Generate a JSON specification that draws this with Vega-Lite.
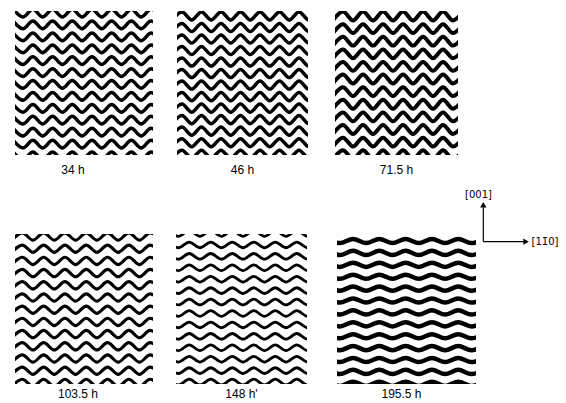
{
"$schema":"https://vega.github.io/schema/vega-lite/v6.json",
"background":"white",
"padding":{"left":15,"top":11,"right":0,"bottom":0},
"config":{"view":{"stroke":null},"title":{"font":"Liberation Sans","fontSize":12,"fontWeight":"normal","color":"black","anchor":"middle"}},
"datasets":{
"p1":[
{"k":0,"x":[1,2,3,4,5,6,7,8,9,10,11,12,13,14,15,16],"y":[-6.5,6.5,-6.5,6.5,-6.5,6.5,-6.5,6.5,-6.5,6.5,-6.5,6.5,-6.5,6.5,-6.5,6.5]},
{"k":1,"x":[1,2,3,4,5,6,7,8,9,10,11,12,13,14,15,16],"y":[13.5,26.5,13.5,26.5,13.5,26.5,13.5,26.5,13.5,26.5,13.5,26.5,13.5,26.5,13.5,26.5]},
{"k":2,"x":[1,2,3,4,5,6,7,8,9,10,11,12,13,14,15,16],"y":[33.5,46.5,33.5,46.5,33.5,46.5,33.5,46.5,33.5,46.5,33.5,46.5,33.5,46.5,33.5,46.5]},
{"k":3,"x":[1,2,3,4,5,6,7,8,9,10,11,12,13,14,15,16],"y":[53.5,66.5,53.5,66.5,53.5,66.5,53.5,66.5,53.5,66.5,53.5,66.5,53.5,66.5,53.5,66.5]},
{"k":4,"x":[1,2,3,4,5,6,7,8,9,10,11,12,13,14,15,16],"y":[73.5,86.5,73.5,86.5,73.5,86.5,73.5,86.5,73.5,86.5,73.5,86.5,73.5,86.5,73.5,86.5]},
{"k":5,"x":[1,2,3,4,5,6,7,8,9,10,11,12,13,14,15,16],"y":[93.5,106.5,93.5,106.5,93.5,106.5,93.5,106.5,93.5,106.5,93.5,106.5,93.5,106.5,93.5,106.5]},
{"k":6,"x":[1,2,3,4,5,6,7,8,9,10,11,12,13,14,15,16],"y":[113.5,126.5,113.5,126.5,113.5,126.5,113.5,126.5,113.5,126.5,113.5,126.5,113.5,126.5,113.5,126.5]},
{"k":7,"x":[1,2,3,4,5,6,7,8,9,10,11,12,13,14,15,16],"y":[133.5,146.5,133.5,146.5,133.5,146.5,133.5,146.5,133.5,146.5,133.5,146.5,133.5,146.5,133.5,146.5]},
{"k":8,"x":[1,2,3,4,5,6,7,8,9,10,11,12,13,14,15,16],"y":[153.5,166.5,153.5,166.5,153.5,166.5,153.5,166.5,153.5,166.5,153.5,166.5,153.5,166.5,153.5,166.5]},
{"k":9,"x":[1,2,3,4,5,6,7,8,9,10,11,12,13,14,15,16],"y":[173.5,186.5,173.5,186.5,173.5,186.5,173.5,186.5,173.5,186.5,173.5,186.5,173.5,186.5,173.5,186.5]},
{"k":10,"x":[1,2,3,4,5,6,7,8,9,10,11,12,13,14,15,16],"y":[193.5,206.5,193.5,206.5,193.5,206.5,193.5,206.5,193.5,206.5,193.5,206.5,193.5,206.5,193.5,206.5]},
{"k":11,"x":[1,2,3,4,5,6,7,8,9,10,11,12,13,14,15,16],"y":[213.5,226.5,213.5,226.5,213.5,226.5,213.5,226.5,213.5,226.5,213.5,226.5,213.5,226.5,213.5,226.5]},
{"k":12,"x":[1,2,3,4,5,6,7,8,9,10,11,12,13,14,15,16],"y":[233.5,246.5,233.5,246.5,233.5,246.5,233.5,246.5,233.5,246.5,233.5,246.5,233.5,246.5,233.5,246.5]}
],
"p2":[
{"k":0,"x":[1,2,3,4,5,6,7,8,9,10,11,12,13,14,15,16],"y":[7,-7,7,-7,7,-7,7,-7,7,-7,7,-7,7,-7,7,-7]},
{"k":1,"x":[1,2,3,4,5,6,7,8,9,10,11,12,13,14,15,16],"y":[27,13,27,13,27,13,27,13,27,13,27,13,27,13,27,13]},
{"k":2,"x":[1,2,3,4,5,6,7,8,9,10,11,12,13,14,15,16],"y":[47,33,47,33,47,33,47,33,47,33,47,33,47,33,47,33]},
{"k":3,"x":[1,2,3,4,5,6,7,8,9,10,11,12,13,14,15,16],"y":[67,53,67,53,67,53,67,53,67,53,67,53,67,53,67,53]},
{"k":4,"x":[1,2,3,4,5,6,7,8,9,10,11,12,13,14,15,16],"y":[87,73,87,73,87,73,87,73,87,73,87,73,87,73,87,73]},
{"k":5,"x":[1,2,3,4,5,6,7,8,9,10,11,12,13,14,15,16],"y":[107,93,107,93,107,93,107,93,107,93,107,93,107,93,107,93]},
{"k":6,"x":[1,2,3,4,5,6,7,8,9,10,11,12,13,14,15,16],"y":[127,113,127,113,127,113,127,113,127,113,127,113,127,113,127,113]},
{"k":7,"x":[1,2,3,4,5,6,7,8,9,10,11,12,13,14,15,16],"y":[147,133,147,133,147,133,147,133,147,133,147,133,147,133,147,133]},
{"k":8,"x":[1,2,3,4,5,6,7,8,9,10,11,12,13,14,15,16],"y":[167,153,167,153,167,153,167,153,167,153,167,153,167,153,167,153]},
{"k":9,"x":[1,2,3,4,5,6,7,8,9,10,11,12,13,14,15,16],"y":[187,173,187,173,187,173,187,173,187,173,187,173,187,173,187,173]},
{"k":10,"x":[1,2,3,4,5,6,7,8,9,10,11,12,13,14,15,16],"y":[207,193,207,193,207,193,207,193,207,193,207,193,207,193,207,193]},
{"k":11,"x":[1,2,3,4,5,6,7,8,9,10,11,12,13,14,15,16],"y":[227,213,227,213,227,213,227,213,227,213,227,213,227,213,227,213]},
{"k":12,"x":[1,2,3,4,5,6,7,8,9,10,11,12,13,14,15,16],"y":[247,233,247,233,247,233,247,233,247,233,247,233,247,233,247,233]}
],
"p3":[
{"k":0,"x":[1,2,3,4,5,6,7,8,9,10,11,12,13,14],"y":[7,-7,7,-7,7,-7,7,-7,7,-7,7,-7,7,-7]},
{"k":1,"x":[1,2,3,4,5,6,7,8,9,10,11,12,13,14],"y":[27,13,27,13,27,13,27,13,27,13,27,13,27,13]},
{"k":2,"x":[1,2,3,4,5,6,7,8,9,10,11,12,13,14],"y":[47,33,47,33,47,33,47,33,47,33,47,33,47,33]},
{"k":3,"x":[1,2,3,4,5,6,7,8,9,10,11,12,13,14],"y":[67,53,67,53,67,53,67,53,67,53,67,53,67,53]},
{"k":4,"x":[1,2,3,4,5,6,7,8,9,10,11,12,13,14],"y":[87,73,87,73,87,73,87,73,87,73,87,73,87,73]},
{"k":5,"x":[1,2,3,4,5,6,7,8,9,10,11,12,13,14],"y":[107,93,107,93,107,93,107,93,107,93,107,93,107,93]},
{"k":6,"x":[1,2,3,4,5,6,7,8,9,10,11,12,13,14],"y":[127,113,127,113,127,113,127,113,127,113,127,113,127,113]},
{"k":7,"x":[1,2,3,4,5,6,7,8,9,10,11,12,13,14],"y":[147,133,147,133,147,133,147,133,147,133,147,133,147,133]},
{"k":8,"x":[1,2,3,4,5,6,7,8,9,10,11,12,13,14],"y":[167,153,167,153,167,153,167,153,167,153,167,153,167,153]},
{"k":9,"x":[1,2,3,4,5,6,7,8,9,10,11,12,13,14],"y":[187,173,187,173,187,173,187,173,187,173,187,173,187,173]},
{"k":10,"x":[1,2,3,4,5,6,7,8,9,10,11,12,13,14],"y":[207,193,207,193,207,193,207,193,207,193,207,193,207,193]},
{"k":11,"x":[1,2,3,4,5,6,7,8,9,10,11,12,13,14],"y":[227,213,227,213,227,213,227,213,227,213,227,213,227,213]}
],
"p4":[
{"k":0,"x":[1,2,3,4,5,6,7,8,9,10,11,12,13,14,15],"y":[6,-6,6,-6,6,-6,6,-6,6,-6,6,-6,6,-6,6]},
{"k":1,"x":[1,2,3,4,5,6,7,8,9,10,11,12,13,14,15],"y":[26,14,26,14,26,14,26,14,26,14,26,14,26,14,26]},
{"k":2,"x":[1,2,3,4,5,6,7,8,9,10,11,12,13,14,15],"y":[46,34,46,34,46,34,46,34,46,34,46,34,46,34,46]},
{"k":3,"x":[1,2,3,4,5,6,7,8,9,10,11,12,13,14,15],"y":[66,54,66,54,66,54,66,54,66,54,66,54,66,54,66]},
{"k":4,"x":[1,2,3,4,5,6,7,8,9,10,11,12,13,14,15],"y":[86,74,86,74,86,74,86,74,86,74,86,74,86,74,86]},
{"k":5,"x":[1,2,3,4,5,6,7,8,9,10,11,12,13,14,15],"y":[106,94,106,94,106,94,106,94,106,94,106,94,106,94,106]},
{"k":6,"x":[1,2,3,4,5,6,7,8,9,10,11,12,13,14,15],"y":[126,114,126,114,126,114,126,114,126,114,126,114,126,114,126]},
{"k":7,"x":[1,2,3,4,5,6,7,8,9,10,11,12,13,14,15],"y":[146,134,146,134,146,134,146,134,146,134,146,134,146,134,146]},
{"k":8,"x":[1,2,3,4,5,6,7,8,9,10,11,12,13,14,15],"y":[166,154,166,154,166,154,166,154,166,154,166,154,166,154,166]},
{"k":9,"x":[1,2,3,4,5,6,7,8,9,10,11,12,13,14,15],"y":[186,174,186,174,186,174,186,174,186,174,186,174,186,174,186]},
{"k":10,"x":[1,2,3,4,5,6,7,8,9,10,11,12,13,14,15],"y":[206,194,206,194,206,194,206,194,206,194,206,194,206,194,206]},
{"k":11,"x":[1,2,3,4,5,6,7,8,9,10,11,12,13,14,15],"y":[226,214,226,214,226,214,226,214,226,214,226,214,226,214,226]},
{"k":12,"x":[1,2,3,4,5,6,7,8,9,10,11,12,13,14,15],"y":[246,234,246,234,246,234,246,234,246,234,246,234,246,234,246]}
],
"p5":[
{"k":0,"x":[1,2,3,4,5,6,7,8,9,10,11,12,13,14,15],"y":[-5,5,-5,5,-5,5,-5,5,-5,5,-5,5,-5,5,-5]},
{"k":1,"x":[1,2,3,4,5,6,7,8,9,10,11,12,13,14,15],"y":[15,25,15,25,15,25,15,25,15,25,15,25,15,25,15]},
{"k":2,"x":[1,2,3,4,5,6,7,8,9,10,11,12,13,14,15],"y":[35,45,35,45,35,45,35,45,35,45,35,45,35,45,35]},
{"k":3,"x":[1,2,3,4,5,6,7,8,9,10,11,12,13,14,15],"y":[55,65,55,65,55,65,55,65,55,65,55,65,55,65,55]},
{"k":4,"x":[1,2,3,4,5,6,7,8,9,10,11,12,13,14,15],"y":[75,85,75,85,75,85,75,85,75,85,75,85,75,85,75]},
{"k":5,"x":[1,2,3,4,5,6,7,8,9,10,11,12,13,14,15],"y":[95,105,95,105,95,105,95,105,95,105,95,105,95,105,95]},
{"k":6,"x":[1,2,3,4,5,6,7,8,9,10,11,12,13,14,15],"y":[115,125,115,125,115,125,115,125,115,125,115,125,115,125,115]},
{"k":7,"x":[1,2,3,4,5,6,7,8,9,10,11,12,13,14,15],"y":[135,145,135,145,135,145,135,145,135,145,135,145,135,145,135]},
{"k":8,"x":[1,2,3,4,5,6,7,8,9,10,11,12,13,14,15],"y":[155,165,155,165,155,165,155,165,155,165,155,165,155,165,155]},
{"k":9,"x":[1,2,3,4,5,6,7,8,9,10,11,12,13,14,15],"y":[175,185,175,185,175,185,175,185,175,185,175,185,175,185,175]},
{"k":10,"x":[1,2,3,4,5,6,7,8,9,10,11,12,13,14,15],"y":[195,205,195,205,195,205,195,205,195,205,195,205,195,205,195]},
{"k":11,"x":[1,2,3,4,5,6,7,8,9,10,11,12,13,14,15],"y":[215,225,215,225,215,225,215,225,215,225,215,225,215,225,215]},
{"k":12,"x":[1,2,3,4,5,6,7,8,9,10,11,12,13,14,15],"y":[235,245,235,245,235,245,235,245,235,245,235,245,235,245,235]},
{"k":13,"x":[1,2,3,4,5,6,7,8,9,10,11,12,13,14,15],"y":[255,265,255,265,255,265,255,265,255,265,255,265,255,265,255]}
],
"p6":[
{"k":0,"x":[1,2,3,4,5,6,7,8,9,10,11,12,13],"y":[-3.5,3.5,-3.5,3.5,-3.5,3.5,-3.5,3.5,-3.5,3.5,-3.5,3.5,-3.5]},
{"k":1,"x":[1,2,3,4,5,6,7,8,9,10,11,12,13],"y":[16.5,23.5,16.5,23.5,16.5,23.5,16.5,23.5,16.5,23.5,16.5,23.5,16.5]},
{"k":2,"x":[1,2,3,4,5,6,7,8,9,10,11,12,13],"y":[36.5,43.5,36.5,43.5,36.5,43.5,36.5,43.5,36.5,43.5,36.5,43.5,36.5]},
{"k":3,"x":[1,2,3,4,5,6,7,8,9,10,11,12,13],"y":[56.5,63.5,56.5,63.5,56.5,63.5,56.5,63.5,56.5,63.5,56.5,63.5,56.5]},
{"k":4,"x":[1,2,3,4,5,6,7,8,9,10,11,12,13],"y":[76.5,83.5,76.5,83.5,76.5,83.5,76.5,83.5,76.5,83.5,76.5,83.5,76.5]},
{"k":5,"x":[1,2,3,4,5,6,7,8,9,10,11,12,13],"y":[96.5,103.5,96.5,103.5,96.5,103.5,96.5,103.5,96.5,103.5,96.5,103.5,96.5]},
{"k":6,"x":[1,2,3,4,5,6,7,8,9,10,11,12,13],"y":[116.5,123.5,116.5,123.5,116.5,123.5,116.5,123.5,116.5,123.5,116.5,123.5,116.5]},
{"k":7,"x":[1,2,3,4,5,6,7,8,9,10,11,12,13],"y":[136.5,143.5,136.5,143.5,136.5,143.5,136.5,143.5,136.5,143.5,136.5,143.5,136.5]},
{"k":8,"x":[1,2,3,4,5,6,7,8,9,10,11,12,13],"y":[156.5,163.5,156.5,163.5,156.5,163.5,156.5,163.5,156.5,163.5,156.5,163.5,156.5]},
{"k":9,"x":[1,2,3,4,5,6,7,8,9,10,11,12,13],"y":[176.5,183.5,176.5,183.5,176.5,183.5,176.5,183.5,176.5,183.5,176.5,183.5,176.5]},
{"k":10,"x":[1,2,3,4,5,6,7,8,9,10,11,12,13],"y":[196.5,203.5,196.5,203.5,196.5,203.5,196.5,203.5,196.5,203.5,196.5,203.5,196.5]},
{"k":11,"x":[1,2,3,4,5,6,7,8,9,10,11,12,13],"y":[216.5,223.5,216.5,223.5,216.5,223.5,216.5,223.5,216.5,223.5,216.5,223.5,216.5]},
{"k":12,"x":[1,2,3,4,5,6,7,8,9,10,11,12,13],"y":[236.5,243.5,236.5,243.5,236.5,243.5,236.5,243.5,236.5,243.5,236.5,243.5,236.5]}
],
"axes":[{"x":0,"y":0,"x2":0,"y2":0.86},{"x":0,"y":0,"x2":0.91,"y2":0}],
"heads":[{"x":0,"y":0.925,"s":"triangle-up"},{"x":0.95,"y":0,"s":"triangle-right"}],
"labels":[{"x":-0.107,"y":1.16,"t":"[001]"},{"x":1.37,"y":0,"t":"[11̄0]"}]
},
"spacing":-11,
"hconcat":[
{"spacing":58,"vconcat":[
{"spacing":24,"hconcat":[
{"width":138,"height":144,"data":{"name":"p1"},"transform":[{"flatten":["x","y"]}],
"title":{"text":"34 h","orient":"bottom","offset":10,"dx":-11,"frame":"group"},
"mark":{"type":"line","interpolate":"monotone","clip":true,"color":"black","strokeWidth":3.5},
"encoding":{"x":{"field":"x","type":"quantitative","scale":{"domain":[1.19,15.2]},"axis":null},"y":{"field":"y","type":"quantitative","scale":{"domain":[-3.4,238.4],"reverse":true},"axis":null},"detail":{"field":"k"}}},
{"spacing":27,"hconcat":[
{"width":131,"height":144,"data":{"name":"p2"},"transform":[{"flatten":["x","y"]}],
"title":{"text":"46 h","orient":"bottom","offset":10,"frame":"group"},
"mark":{"type":"line","interpolate":"monotone","clip":true,"color":"black","strokeWidth":3.5},
"encoding":{"x":{"field":"x","type":"quantitative","scale":{"domain":[1.49,14.92]},"axis":null},"y":{"field":"y","type":"quantitative","scale":{"domain":[-8.6,241.4],"reverse":true},"axis":null},"detail":{"field":"k"}}},
{"width":123,"height":144,"data":{"name":"p3"},"transform":[{"flatten":["x","y"]}],
"title":{"text":"71.5 h","orient":"bottom","offset":10,"frame":"group"},
"mark":{"type":"line","interpolate":"monotone","clip":true,"color":"black","strokeWidth":4},
"encoding":{"x":{"field":"x","type":"quantitative","scale":{"domain":[1.2,13.5]},"axis":null},"y":{"field":"y","type":"quantitative","scale":{"domain":[-7.9,220.5],"reverse":true},"axis":null},"detail":{"field":"k"}}}
]}
]},
{"spacing":23,"hconcat":[
{"width":138,"height":150,"data":{"name":"p4"},"transform":[{"flatten":["x","y"]}],
"title":{"text":"103.5 h","orient":"bottom","offset":5,"dx":-6,"frame":"group"},
"mark":{"type":"line","interpolate":"monotone","clip":true,"color":"black","strokeWidth":3.2},
"encoding":{"x":{"field":"x","type":"quantitative","scale":{"domain":[1.31,14.27]},"axis":null},"y":{"field":"y","type":"quantitative","scale":{"domain":[-4.1,241.8],"reverse":true},"axis":null},"detail":{"field":"k"}}},
{"spacing":30,"hconcat":[
{"width":131,"height":150,"data":{"name":"p5"},"transform":[{"flatten":["x","y"]}],
"title":{"text":"148 h'","orient":"bottom","offset":5,"frame":"group"},
"mark":{"type":"line","interpolate":"monotone","clip":true,"color":"black","strokeWidth":2.8},
"encoding":{"x":{"field":"x","type":"quantitative","scale":{"domain":[1.77,13.95]},"axis":null},"y":{"field":"y","type":"quantitative","scale":{"domain":[0.9,263.4],"reverse":true},"axis":null},"detail":{"field":"k"}}},
{"width":139,"height":150,"data":{"name":"p6"},"transform":[{"flatten":["x","y"]}],
"title":{"text":"195.5 h","orient":"bottom","offset":5,"dx":-5,"frame":"group"},
"mark":{"type":"line","interpolate":"monotone","clip":true,"color":"black","strokeWidth":4.5},
"encoding":{"x":{"field":"x","type":"quantitative","scale":{"domain":[1.78,12.35]},"axis":null},"y":{"field":"y","type":"quantitative","scale":{"domain":[-11.8,240.3],"reverse":true},"axis":null},"detail":{"field":"k"}}}
]}
]}
]},
{"width":88,"height":240,
"encoding":{"x":{"field":"x","type":"quantitative","scale":{"domain":[-0.118,1.838]},"axis":null},"y":{"field":"y","type":"quantitative","scale":{"domain":[-0.2325,5.7675]},"axis":null}},
"layer":[
{"data":{"name":"axes"},"mark":{"type":"rule","color":"black","strokeWidth":1.2},"encoding":{"x2":{"field":"x2"},"y2":{"field":"y2"}}},
{"data":{"name":"heads"},"mark":{"type":"point","filled":true,"color":"black","opacity":1,"size":40},"encoding":{"shape":{"field":"s","type":"nominal","scale":null}}},
{"data":{"name":"labels"},"mark":{"type":"text","font":"DejaVu Sans","fontSize":10,"baseline":"middle","align":"center","color":"black"},"encoding":{"text":{"field":"t"}}}
]}
]
}
